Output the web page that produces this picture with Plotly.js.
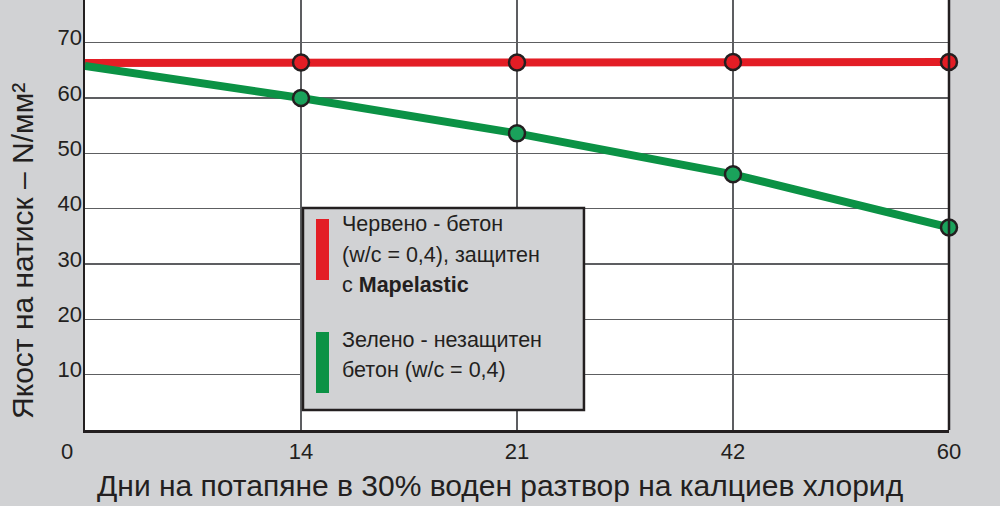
<!DOCTYPE html>
<html>
<head>
<meta charset="utf-8">
<script src="https://cdn.plot.ly/plotly-3.0.1.min.js"></script>
<style>html,body{margin:0;padding:0;background:#d1d2d4;}#chart{width:1000px;height:506px;}</style>
</head>
<body>
<div id="chart"></div>
<script>
// ---- data ----
const days = ['0', '14', '21', '42', '60'];
const redValues = [66.3, 66.4, 66.4, 66.5, 66.5];
const greenValues = [65.8, 60.0, 53.6, 46.2, 36.6];
const yTicks = [10, 20, 30, 40, 50, 60, 70];
const xTickLabels = ['14', '21', '42', '60'];
const originLabel = '0';
const xTitle = 'Дни на потапяне в 30% воден разтвор на калциев хлорид';
const yTitle = 'Якост на натиск – N/мм²';
const redLegend = ['Червено - бетон', '(w/c = 0,4), защитен', 'с <b>Mapelastic</b>'];
const greenLegend = ['Зелено - незащитен', 'бетон (w/c = 0,4)'];

const RED = '#e31d25', GREEN = '#0b9245', GREEN_M = '#1aa25b', DARK = '#231f20', BG = '#d1d2d4';
const FONT = 'Liberation Sans, Arial, Helvetica, sans-serif';

const traces = [
  {x: days, y: redValues, mode: 'lines', line: {color: RED, width: 8}, hoverinfo: 'skip', showlegend: false},
  {x: days, y: greenValues, mode: 'lines', line: {color: GREEN, width: 8}, hoverinfo: 'skip', showlegend: false},
  {x: days.slice(1), y: redValues.slice(1), mode: 'markers', cliponaxis: false,
   marker: {size: 16, color: RED, line: {color: DARK, width: 2.5}}, showlegend: false},
  {x: days.slice(1), y: greenValues.slice(1), mode: 'markers', cliponaxis: false,
   marker: {size: 16, color: GREEN_M, line: {color: DARK, width: 2.5}}, showlegend: false}
];

// legend box geometry (paper coords)
const bx0 = 0.2523, bx1 = 0.5775, by0 = 0.0465, by1 = 0.5163;
const barX0 = (316 - 85) / 864, barX1 = (329 - 85) / 864;
const py = v => 1 - v / 430;
const textX = (340 - 85) / 864;
const redLineY = [224, 255, 285];
const greenLineY = [340, 370];

const legendAnn = (txt, yc) => ({
  text: txt, xref: 'paper', yref: 'paper', x: textX, y: py(yc),
  xanchor: 'left', yanchor: 'middle', align: 'left', showarrow: false,
  font: {family: FONT, size: 21.5, color: DARK}
});

const layout = {
  width: 1000, height: 506,
  margin: {l: 85, r: 51, t: 0, b: 76},
  paper_bgcolor: BG, plot_bgcolor: '#ffffff',
  showlegend: false,
  xaxis: {
    type: 'category', categoryorder: 'array', categoryarray: days,
    range: [0, 4], tickvals: xTickLabels, ticktext: xTickLabels,
    showgrid: true, gridcolor: '#5d5e61', gridwidth: 1.2,
    showline: true, linecolor: DARK, linewidth: 2.5,
    ticks: '', ticklabelstandoff: 0,
    tickfont: {family: FONT, size: 22, color: DARK},
    zeroline: false, fixedrange: true
  },
  yaxis: {
    range: [0, 77.7], tickvals: yTicks,
    showgrid: true, gridcolor: '#5d5e61', gridwidth: 1.2,
    showline: true, linecolor: DARK, linewidth: 2.5,
    ticks: '', ticklabelstandoff: -4, ticklabelshift: -5,
    tickfont: {family: FONT, size: 22, color: DARK},
    zeroline: false, fixedrange: true
  },
  shapes: [
    {type: 'line', xref: 'paper', yref: 'paper', x0: 1, x1: 1, y0: 0, y1: 1, line: {color: DARK, width: 2.5}},
    {type: 'rect', xref: 'paper', yref: 'paper', x0: bx0, x1: bx1, y0: by0, y1: by1,
     fillcolor: BG, line: {color: DARK, width: 2.5}},
    {type: 'rect', xref: 'paper', yref: 'paper', x0: barX0, x1: barX1, y0: py(280), y1: py(219),
     fillcolor: RED, line: {width: 0}},
    {type: 'rect', xref: 'paper', yref: 'paper', x0: barX0, x1: barX1, y0: py(393), y1: py(332),
     fillcolor: GREEN, line: {width: 0}}
  ],
  annotations: [
    ...redLegend.map((t, i) => legendAnn(t, redLineY[i])),
    ...greenLegend.map((t, i) => legendAnn(t, greenLineY[i])),
    {text: originLabel, xref: 'x', yref: 'paper', x: days[0], y: 0, xshift: -18, yshift: -21,
     xanchor: 'center', yanchor: 'middle', showarrow: false, font: {family: FONT, size: 22, color: DARK}},
    {text: xTitle, xref: 'paper', yref: 'paper', x: (500 - 85) / 864, y: 0, yshift: -55,
     xanchor: 'center', yanchor: 'middle', showarrow: false, font: {family: FONT, size: 30, color: DARK}},
    {text: yTitle, xref: 'paper', yref: 'paper', x: 0, xshift: -63, y: py(251), textangle: -90,
     xanchor: 'center', yanchor: 'middle', showarrow: false, font: {family: FONT, size: 30, color: DARK}}
  ]
};

Plotly.newPlot('chart', traces, layout, {staticPlot: true, displayModeBar: false});
</script>
</body>
</html>
